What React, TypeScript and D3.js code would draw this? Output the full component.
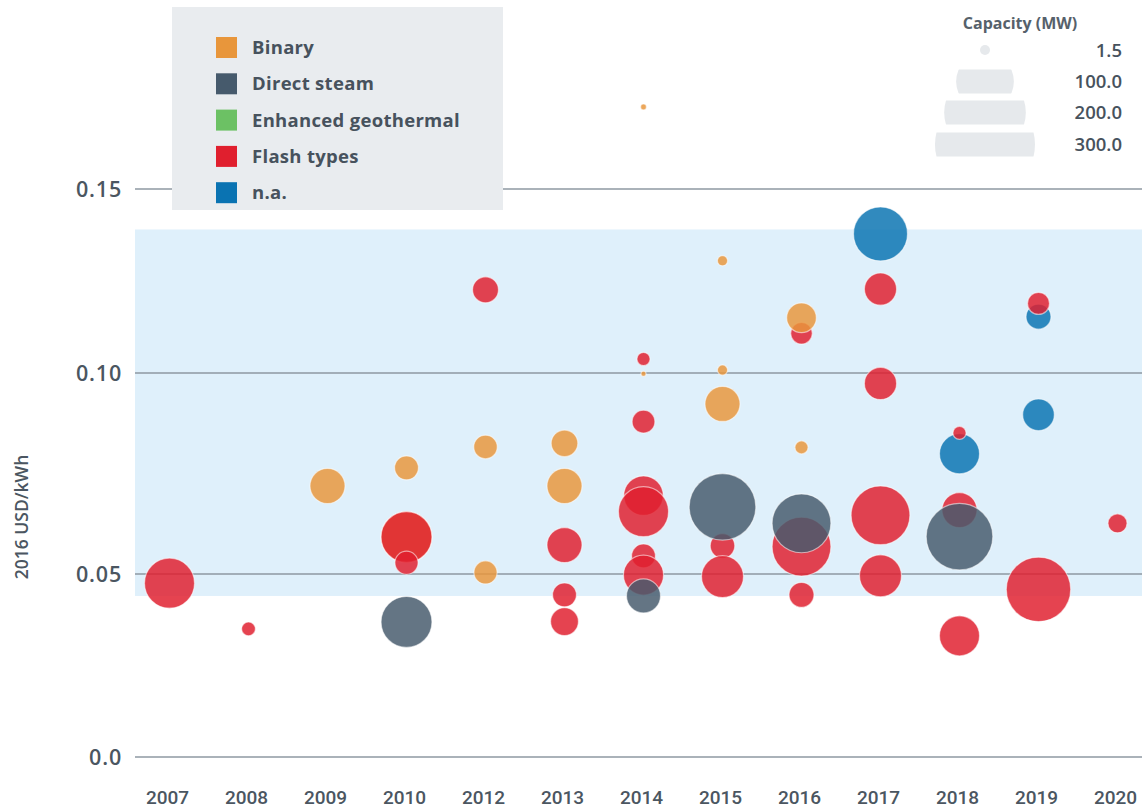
import React from 'react';
import * as d3 from 'd3';

// ---- data ----
const years = ['2007', '2008', '2009', '2010', '2012', '2013', '2014', '2015', '2016', '2017', '2018', '2019', '2020'];
const types = ['Binary', 'Direct steam', 'Enhanced geothermal', 'Flash types', 'n.a.'];
const typeColors = ['#e8963b', '#465a6c', '#6cc164', '#e01f2e', '#0a73b2'];

const yTicks = [0, 0.05, 0.10, 0.15];
const yTickLabels = ['0.0', '0.05', '0.10', '0.15'];
const fossilRange = [0.044, 0.139];

const capLegendValues = [1.5, 100, 200, 300];
const capLegendLabels = ['1.5', '100.0', '200.0', '300.0'];

// [year, type, LCOE (2016 USD/kWh), capacity (MW)] in drawing order
const plants: [string, string, number, number][] = [
  ['2007', 'Flash types', 0.0475, 145],
  ['2008', 'Flash types', 0.035, 11],
  ['2009', 'Binary', 0.0719, 71],
  ['2010', 'Binary', 0.0764, 33],
  ['2010', 'Binary', 0.0592, 150],
  ['2010', 'Flash types', 0.0592, 150],
  ['2010', 'Flash types', 0.0528, 31],
  ['2010', 'Direct steam', 0.0369, 150],
  ['2012', 'Flash types', 0.1226, 39],
  ['2012', 'Binary', 0.0816, 32],
  ['2012', 'Binary', 0.0504, 31],
  ['2013', 'Binary', 0.0825, 41],
  ['2013', 'Binary', 0.0719, 71],
  ['2013', 'Flash types', 0.0572, 71],
  ['2013', 'Flash types', 0.0443, 33],
  ['2013', 'Flash types', 0.037, 45],
  ['2014', 'Binary', 0.1723, 2],
  ['2014', 'Flash types', 0.1038, 10],
  ['2014', 'Binary', 0.0998, 1.5],
  ['2014', 'Flash types', 0.0879, 30],
  ['2014', 'Flash types', 0.0695, 90],
  ['2014', 'Flash types', 0.0655, 145],
  ['2014', 'Flash types', 0.0545, 33],
  ['2014', 'Flash types', 0.0497, 93],
  ['2014', 'Direct steam', 0.044, 67],
  ['2015', 'Binary', 0.1305, 6],
  ['2015', 'Binary', 0.1008, 6],
  ['2015', 'Binary', 0.0923, 71],
  ['2015', 'Flash types', 0.057, 35],
  ['2015', 'Flash types', 0.0493, 102],
  ['2015', 'Direct steam', 0.0667, 257],
  ['2016', 'Flash types', 0.1108, 27],
  ['2016', 'Binary', 0.115, 51],
  ['2016', 'Binary', 0.0815, 10],
  ['2016', 'Flash types', 0.0568, 200],
  ['2016', 'Direct steam', 0.0626, 200],
  ['2016', 'Flash types', 0.0443, 36],
  ['2017', 'n.a.', 0.1378, 169],
  ['2017', 'Flash types', 0.1228, 60],
  ['2017', 'Flash types', 0.0974, 60],
  ['2017', 'Flash types', 0.0646, 200],
  ['2017', 'Flash types', 0.0495, 102],
  ['2018', 'n.a.', 0.0799, 93],
  ['2018', 'Flash types', 0.0851, 10],
  ['2018', 'Flash types', 0.0659, 71],
  ['2018', 'Direct steam', 0.0593, 257],
  ['2018', 'Flash types', 0.0331, 93],
  ['2019', 'n.a.', 0.1153, 36],
  ['2019', 'Flash types', 0.1189, 28],
  ['2019', 'n.a.', 0.0896, 58],
  ['2019', 'Flash types', 0.0458, 240],
  ['2020', 'Flash types', 0.0626, 21],
];

const TEXT = '#4b5661';
const FONT = '"Open Sans", "Noto Sans", sans-serif';

export default function App() {
  const W = 1144;
  const H = 808;
  const plotLeft = 135;
  const plotRight = 1142;

  const x = d3.scaleBand<string>().domain(years).range([130, 1157]);
  const y = d3.scaleLinear().domain(yTicks).range([757, 574, 373, 189]);
  const r = d3.scaleSqrt().domain([0, 300]).range([0, 36]);
  const color = d3.scaleOrdinal<string, string>().domain(types).range(typeColors);
  const legendR = d3.scaleSqrt().domain([0, 300]).range([0, 50]);

  const legendRowY = [50, 81.5, 112.5, 144.5];
  const legendCx = 985;

  return (
    <svg width={W} height={H} style={{ position: 'absolute', left: 0, top: 0, background: '#fff' }} fontFamily={FONT}>
      <defs>
        {capLegendValues.map((v, i) => (
          <clipPath id={`capclip${i}`} key={i}>
            <rect x={legendCx - 60} y={legendRowY[i] - 12} width={120} height={24} />
          </clipPath>
        ))}
      </defs>

      {/* fossil fuel cost band */}
      <rect x={plotLeft} width={plotRight - plotLeft} y={y(fossilRange[1])} height={y(fossilRange[0]) - y(fossilRange[1])} fill="#dff0fb" />

      {/* grid lines */}
      {yTicks.map((t, i) => (
        <line key={i} x1={plotLeft} x2={plotRight} y1={y(t)} y2={y(t)} stroke="#8e99a2" strokeWidth={1.5} />
      ))}

      {/* y tick labels */}
      {yTicks.map((t, i) => (
        <text key={i} x={122} y={y(t)} dy="0.36em" textAnchor="end" fontSize={21.5} fill={TEXT} fontWeight={600} letterSpacing={0.8}>
          {yTickLabels[i]}
        </text>
      ))}

      {/* y axis title */}
      <text transform={`translate(28,517) rotate(-90)`} textAnchor="middle" fontSize={17.5} fill={TEXT} fontWeight={600}>
        2016 USD/kWh
      </text>

      {/* x labels */}
      {years.map((yr) => (
        <text key={yr} x={(x(yr) as number) + x.bandwidth() / 2 - 2} y={797} dy="0.35em" textAnchor="middle" fontSize={19} fill={TEXT} fontWeight={500} fontFamily="Roboto, sans-serif">
          {yr}
        </text>
      ))}

      {/* bubbles */}
      {plants.map(([yr, type, cost, cap], i) => (
        <circle
          key={i}
          cx={(x(yr) as number) + x.bandwidth() / 2}
          cy={y(cost)}
          r={r(cap)}
          fill={color(type)}
          fillOpacity={0.84}
          stroke="#ffffff"
          strokeOpacity={0.55}
          strokeWidth={1.2}
        />
      ))}

      {/* type legend */}
      <rect x={172} y={7} width={331} height={203} fill="#e9ecef" />
      {types.map((t, i) => (
        <g key={t} transform={`translate(216,${37 + i * 36.3})`}>
          <rect width={21} height={21} fill={typeColors[i]} />
          <text x={36} y={10.5} dy="0.36em" fontSize={18.5} fontWeight={700} fill="#47525d" letterSpacing={0.3}>
            {t}
          </text>
        </g>
      ))}

      {/* capacity legend */}
      <text x={1020} y={29} textAnchor="middle" fontSize={16} fontWeight={700} fill="#56616b">
        Capacity (MW)
      </text>
      {capLegendValues.map((v, i) => (
        <g key={i}>
          <circle cx={legendCx} cy={legendRowY[i]} r={Math.max(legendR(v), 5)} fill="#e6e9ec" clipPath={`url(#capclip${i})`} />
          <text x={1122} y={legendRowY[i]} dy="0.36em" textAnchor="end" fontSize={18.5} fontWeight={600} fill="#47525d">
            {capLegendLabels[i]}
          </text>
        </g>
      ))}
    </svg>
  );
}
